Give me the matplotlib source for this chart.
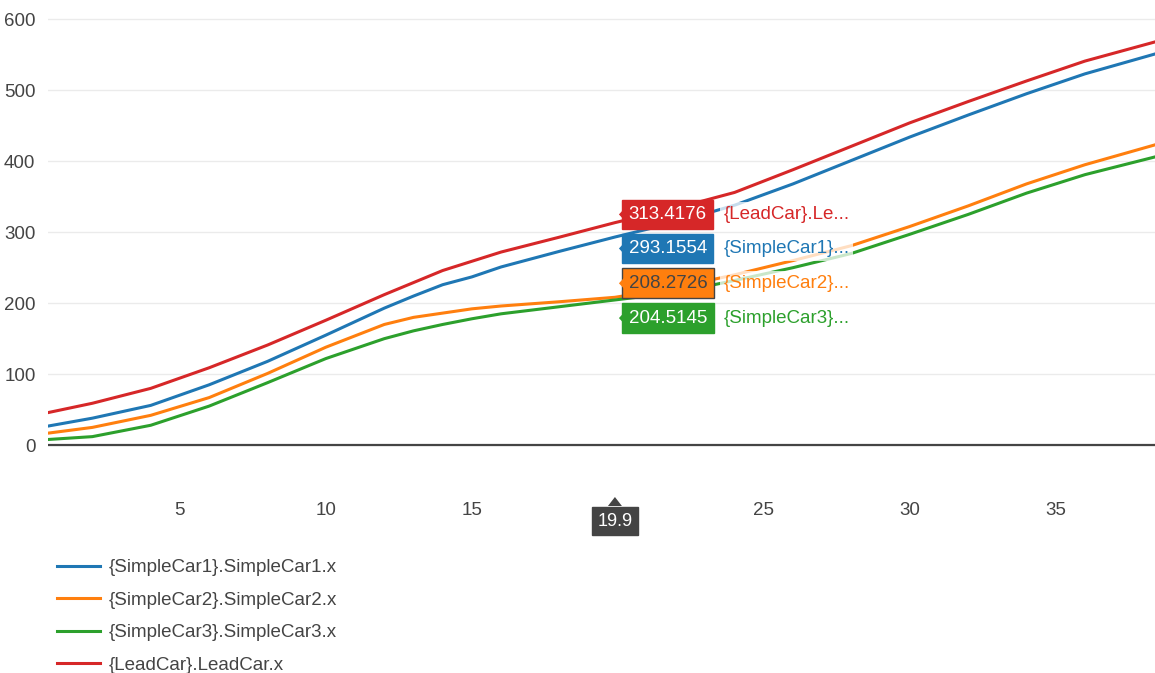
import matplotlib
matplotlib.use("Agg")
import matplotlib.pyplot as plt
from matplotlib.patches import Polygon
import matplotlib.transforms as mtransforms

plt.rcParams['font.family'] = ['Liberation Sans', 'DejaVu Sans']

# -------------------------------------------------------
# datos
# -------------------------------------------------------
t = [0.5, 2, 4, 6, 8, 10, 12, 13, 14, 15, 16, 18, 19.9,
     22, 24, 26, 28, 30, 32, 34, 36, 38.4]

simple_car1 = [27, 38, 56, 85, 118, 155, 193, 210, 226, 237, 251, 273, 293.1554,
               314, 338, 368, 401, 434, 465, 495, 523, 551]
simple_car2 = [17, 25, 42, 67, 101, 138, 170, 180, 186, 192, 196, 202, 208.2726,
               222, 240, 260, 281, 308, 337, 368, 395, 423]
simple_car3 = [8, 12, 28, 55, 88, 122, 150, 161, 170, 178, 185, 195, 204.5145,
               215, 232, 250, 270, 297, 325, 355, 381, 406]
lead_car = [46, 59, 80, 109, 141, 176, 212, 229, 246, 259, 272, 293, 313.4176,
            334, 356, 388, 421, 454, 484, 513, 541, 568]

names = ["{SimpleCar1}.SimpleCar1.x", "{SimpleCar2}.SimpleCar2.x",
         "{SimpleCar3}.SimpleCar3.x", "{LeadCar}.LeadCar.x"]
colores = ["#1f77b4", "#ff7f0e", "#2ca02c", "#d62728"]

hover_x = 19.9
hover_vals = ["313.4176", "293.1554", "208.2726", "204.5145"]
hover_names = ["{LeadCar}.Le...", "{SimpleCar1}...", "{SimpleCar2}...", "{SimpleCar3}..."]
hover_cols = ["#d62728", "#1f77b4", "#ff7f0e", "#2ca02c"]
hover_txt = ["white", "white", "#444444", "white"]
hover_y = [325, 277, 228, 179]   # posicion de las etiquetas (apiladas)

xticks = [5, 10, 15, 25, 30, 35]
yticks = [0, 100, 200, 300, 400, 500, 600]

# -------------------------------------------------------
# figura
# -------------------------------------------------------
W, H = 1155, 673
fig = plt.figure(figsize=(W / 100, H / 100), dpi=100)
ax = fig.add_axes([48 / W, (H - 492) / H, (W - 48) / W, (492 - 5) / H])

series = [simple_car1, simple_car2, simple_car3, lead_car]
lineas = []
for ys, c, n in zip(series, colores, names):
    ln, = ax.plot(t, ys, color=c, lw=2.2, label=n, zorder=3,
                  solid_joinstyle="round")
    lineas.append(ln)

ax.set_xlim(0.48, 38.4)
ax.set_ylim(-66, 620)
ax.set_xticks(xticks)
ax.set_yticks(yticks)
ax.yaxis.grid(True, color="#ebebeb", lw=1)
ax.set_axisbelow(True)
ax.axhline(0, color="#444444", lw=1.6, zorder=2)
for s in ax.spines.values():
    s.set_visible(False)
ax.tick_params(axis="y", length=0, pad=9, labelsize=13.5, colors="#444444")
ax.tick_params(axis="x", length=0, pad=7, labelsize=13.5, colors="#444444")

# etiquetas de hover
for val, nom, col, tc, yy in zip(hover_vals, hover_names, hover_cols, hover_txt, hover_y):
    ax.annotate(val, xy=(hover_x, yy), xytext=(10, 0), textcoords="offset points",
                ha="left", va="center", fontsize=13.5, color=tc, zorder=6,
                bbox=dict(boxstyle="square,pad=0.34", fc=col,
                          ec="#444444" if tc != "white" else col, lw=1))
    ax.annotate(nom, xy=(hover_x, yy), xytext=(78, 0), textcoords="offset points",
                ha="left", va="center", fontsize=13.5, color=col, zorder=5,
                bbox=dict(boxstyle="square,pad=0.2", fc="white", ec="none", alpha=0.75))
    px, py = ax.transData.transform((hover_x, yy))
    tri = Polygon([(px + 10.5, py - 7), (px + 10.5, py + 7), (px + 4, py)], closed=True,
                  fc=col, ec="none", zorder=6, transform=mtransforms.IdentityTransform())
    fig.patches.append(tri)

# etiqueta del eje x
ax.annotate(f"{hover_x}", xy=(hover_x, 0), xycoords=ax.get_xaxis_transform(),
            xytext=(0, -21), textcoords="offset points", ha="center", va="center",
            fontsize=13, color="white", annotation_clip=False,
            bbox=dict(boxstyle="square,pad=0.3", fc="#444444", ec="#444444"))
px0, _ = ax.transData.transform((hover_x, 0))
tri = Polygon([(px0 - 7, H - 506), (px0 + 7, H - 506), (px0, H - 497)], closed=True,
              fc="#444444", ec="none", transform=mtransforms.IdentityTransform())
fig.patches.append(tri)

fig.legend(lineas, names, loc="upper left", bbox_to_anchor=(57 / W, 1 - 559 / H),
           frameon=False, fontsize=13.5, handlelength=2.3, handletextpad=0.45,
           labelspacing=0.82, borderpad=0, borderaxespad=0, labelcolor="#444444")

fig.savefig("out.png", dpi=100)
